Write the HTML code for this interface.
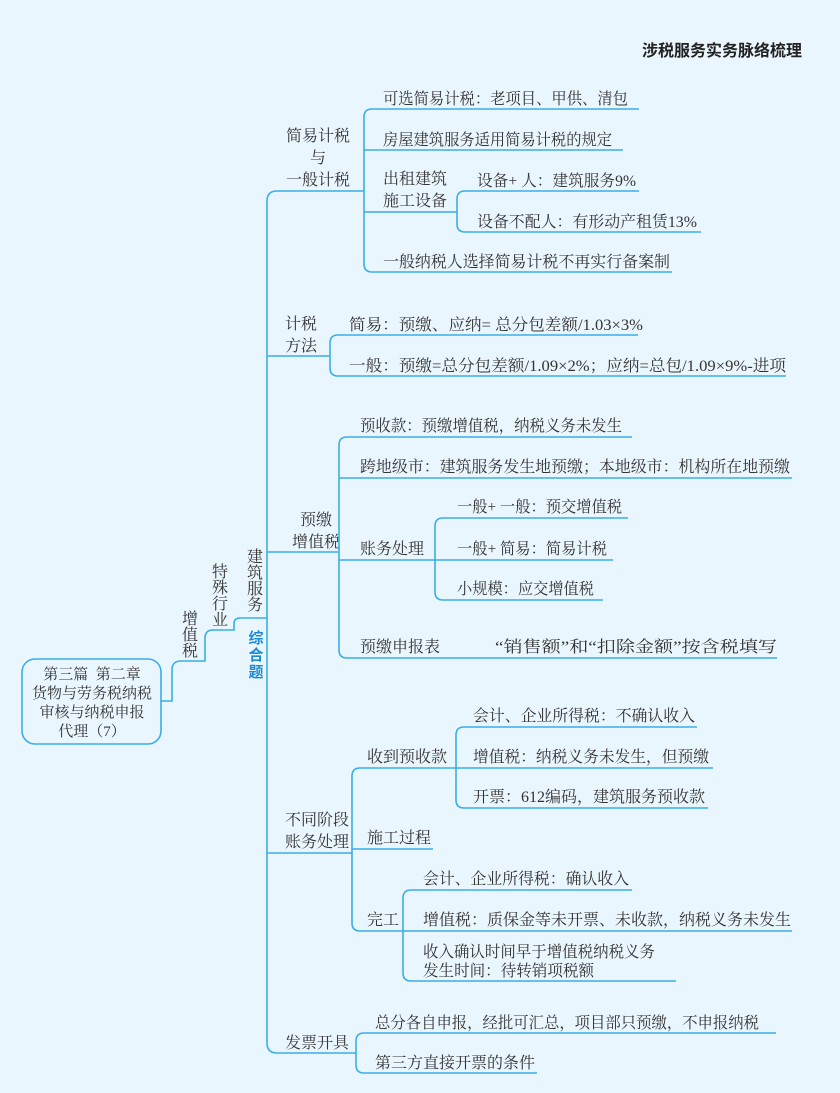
<!DOCTYPE html>
<html><head><meta charset="utf-8"><style>
html,body{margin:0;padding:0;background:#eaf6fe;}
svg{display:block;}
text{font-family:"Liberation Serif","Noto Serif CJK SC",serif;font-size:16px;fill:#333;}
.r{font-size:15px;}
.t{font-family:"Liberation Sans","Noto Sans CJK SC",sans-serif;font-weight:bold;font-size:16px;fill:#222;}
.b{font-family:"Liberation Sans","Noto Sans CJK SC",sans-serif;font-weight:bold;font-size:15px;fill:#1a8ad8;}
path,rect{fill:none;stroke:#3aaee8;stroke-width:1.6;}
</style></head><body>
<svg width="840" height="1093" viewBox="0 0 840 1093" xmlns="http://www.w3.org/2000/svg">
<rect x="0" y="0" width="840" height="1093" style="fill:#eaf6fe;stroke:none"/>
<text class="t" x="642" y="56">涉税服务实务脉络梳理</text>

<!-- root -->
<rect x="22" y="659" width="139" height="85" rx="13"/>
<g class="r">
<text class="r" x="92" y="679" text-anchor="middle">第三篇&#160;&#160;第二章</text>
<text class="r" x="92" y="698" text-anchor="middle">货物与劳务税纳税</text>
<text class="r" x="92" y="717" text-anchor="middle">审核与纳税申报</text>
<text class="r" x="92" y="736" text-anchor="middle">代理（7）</text>
</g>
<path d="M161 701 L172 701 L172 670 Q172 661 181 661 L205 661 L205 638 Q205 630 213 630 L234 630 L234 624 Q234 618 240 618 L267 618"/>
<g text-anchor="middle">
<text x="190" y="624">增</text><text x="190" y="640">值</text><text x="190" y="656">税</text>
<text x="220" y="577">特</text><text x="220" y="593">殊</text><text x="220" y="609">行</text><text x="220" y="625">业</text>
<text x="255" y="562">建</text><text x="255" y="578">筑</text><text x="255" y="594">服</text><text x="255" y="610">务</text>
<text class="b" x="256" y="643">综</text><text class="b" x="256" y="660">合</text><text class="b" x="256" y="677">题</text>
</g>

<!-- main spine -->
<path d="M364 191 L277 191 Q267 191 267 201 L267 1043 Q267 1053 277 1053 L356 1053"/>
<path d="M267 356 L330 356"/><path d="M267 552 L339 552"/><path d="M267 853 L352 853"/>

<!-- 简易计税 -->
<g text-anchor="middle"><text x="318" y="141">简易计税</text><text x="318" y="163">与</text><text x="318" y="185">一般计税</text></g>
<path d="M639 109 L372 109 Q364 109 364 117 L364 264 Q364 272 372 272 L672 272"/>
<path d="M364 150 L623 150"/><path d="M364 212 L457 212"/>
<path d="M639 191 L465 191 Q457 191 457 199 L457 224 Q457 232 465 232 L701 232"/>
<text x="383" y="104" textLength="245" lengthAdjust="spacingAndGlyphs">可选简易计税：老项目、甲供、清包</text>
<text x="383" y="145" textLength="229" lengthAdjust="spacingAndGlyphs">房屋建筑服务适用简易计税的规定</text>
<text x="383" y="184">出租建筑</text><text x="383" y="206">施工设备</text>
<text x="477" y="186" textLength="159" lengthAdjust="spacingAndGlyphs">设备+ 人：建筑服务9%</text>
<text x="477" y="227" textLength="220" lengthAdjust="spacingAndGlyphs">设备不配人：有形动产租赁13%</text>
<text x="383" y="267" textLength="287" lengthAdjust="spacingAndGlyphs">一般纳税人选择简易计税不再实行备案制</text>

<!-- 计税方法 -->
<text x="285" y="329">计税</text><text x="285" y="351">方法</text>
<path d="M638 335 L338 335 Q330 335 330 343 L330 368 Q330 376 338 376 L786 376"/>
<text x="349" y="330" textLength="294" lengthAdjust="spacingAndGlyphs">简易：预缴、应纳= 总分包差额/1.03×3%</text>
<text x="349" y="371" textLength="437" lengthAdjust="spacingAndGlyphs">一般：预缴=总分包差额/1.09×2%；应纳=总包/1.09×9%-进项</text>

<!-- 预缴增值税 -->
<g text-anchor="middle"><text x="316" y="525">预缴</text><text x="316" y="547">增值税</text></g>
<path d="M632 437 L347 437 Q339 437 339 445 L339 650 Q339 658 347 658 L777 658"/>
<path d="M339 478 L792 478"/><path d="M339 560 L435 560"/>
<path d="M628 518 L443 518 Q435 518 435 526 L435 592 Q435 600 443 600 L603 600"/>
<path d="M435 560 L613 560"/>
<text x="360" y="431" textLength="262" lengthAdjust="spacingAndGlyphs">预收款：预缴增值税，纳税义务未发生</text>
<text x="360" y="472" textLength="430" lengthAdjust="spacingAndGlyphs">跨地级市：建筑服务发生地预缴；本地级市：机构所在地预缴</text>
<text x="360" y="554">账务处理</text>
<text x="457" y="512" textLength="165" lengthAdjust="spacingAndGlyphs">一般+ 一般：预交增值税</text>
<text x="457" y="554" textLength="150" lengthAdjust="spacingAndGlyphs">一般+ 简易：简易计税</text>
<text x="457" y="594" textLength="137" lengthAdjust="spacingAndGlyphs">小规模：应交增值税</text>
<text x="360" y="652">预缴申报表</text>
<text x="495" y="652" textLength="282" lengthAdjust="spacingAndGlyphs">“销售额”和“扣除金额”按含税填写</text>

<!-- 不同阶段 -->
<text x="285" y="825">不同阶段</text><text x="285" y="847">账务处理</text>
<path d="M456 768 L360 768 Q352 768 352 776 L352 923 Q352 931 360 931 L403 931"/>
<path d="M352 849 L433 849"/>
<text x="367" y="762">收到预收款</text><text x="367" y="843">施工过程</text><text x="367" y="925">完工</text>
<path d="M697 727 L464 727 Q456 727 456 735 L456 800 Q456 808 464 808 L708 808"/>
<path d="M456 768 L713 768"/>
<text x="473" y="721" textLength="222" lengthAdjust="spacingAndGlyphs">会计、企业所得税：不确认收入</text>
<text x="473" y="762" textLength="236" lengthAdjust="spacingAndGlyphs">增值税：纳税义务未发生，但预缴</text>
<text x="473" y="802" textLength="232" lengthAdjust="spacingAndGlyphs">开票：612编码，建筑服务预收款</text>
<path d="M632 890 L411 890 Q403 890 403 898 L403 973 Q403 981 411 981 L676 981"/>
<path d="M403 931 L792 931"/>
<text x="423" y="884" textLength="206" lengthAdjust="spacingAndGlyphs">会计、企业所得税：确认收入</text>
<text x="423" y="925" textLength="368" lengthAdjust="spacingAndGlyphs">增值税：质保金等未开票、未收款，纳税义务未发生</text>
<text x="423" y="957" textLength="232" lengthAdjust="spacingAndGlyphs">收入确认时间早于增值税纳税义务</text>
<text x="423" y="976" textLength="171" lengthAdjust="spacingAndGlyphs">发生时间：待转销项税额</text>

<!-- 发票开具 -->
<text x="285" y="1048">发票开具</text>
<path d="M776 1033 L364 1033 Q356 1033 356 1041 L356 1065 Q356 1073 364 1073 L537 1073"/>
<text x="375" y="1028" textLength="384" lengthAdjust="spacingAndGlyphs">总分各自申报，经批可汇总，项目部只预缴，不申报纳税</text>
<text x="375" y="1068" textLength="160" lengthAdjust="spacingAndGlyphs">第三方直接开票的条件</text>
</svg>
</body></html>
